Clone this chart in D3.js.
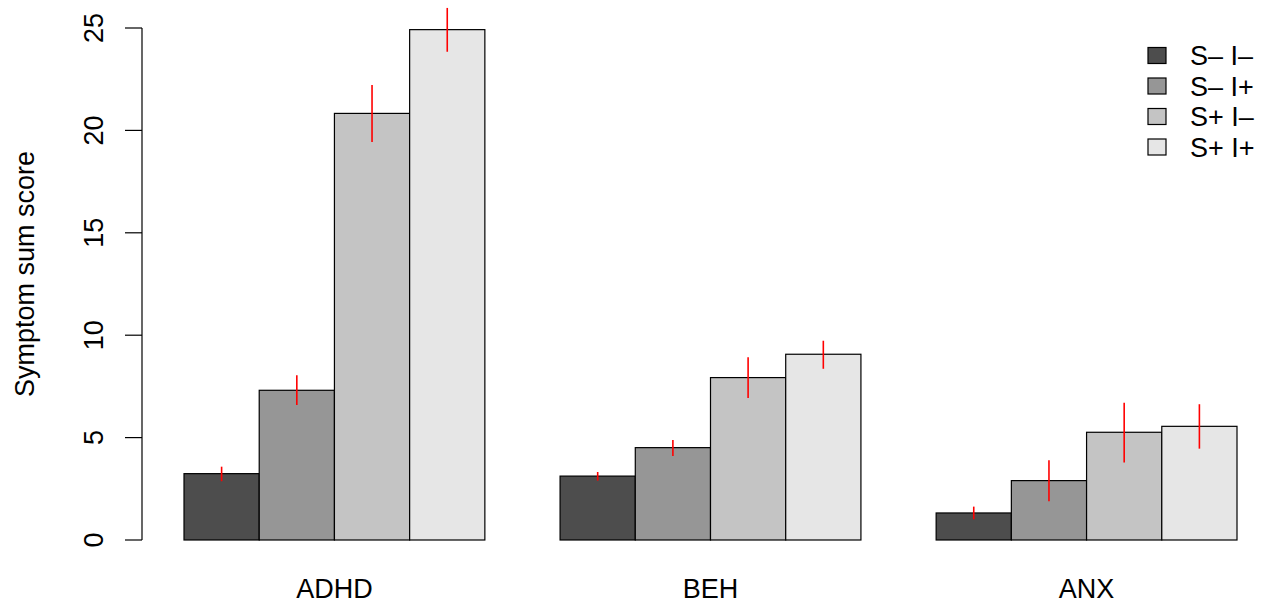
<!DOCTYPE html>
<html>
<head>
<meta charset="utf-8">
<script src="https://cdn.jsdelivr.net/npm/d3@7"></script>
<style>
  html, body { margin: 0; padding: 0; background: #fff; }
  svg text { font-family: "Liberation Sans", Arial, sans-serif; fill: #000; }
</style>
</head>
<body>
<svg id="chart" width="1262" height="604"></svg>
<script>
// ---- data ----
const categories = ["ADHD", "BEH", "ANX"];
const seriesNames = ["S\u2013 I\u2013", "S\u2013 I+", "S+ I\u2013", "S+ I+"];
const seriesColors = ["#4D4D4D", "#969696", "#C4C4C4", "#E6E6E6"];

const meanSmIm = [3.24, 3.12, 1.32];
const meanSmIp = [7.31, 4.51, 2.90];
const meanSpIm = [20.83, 7.93, 5.26];
const meanSpIp = [24.92, 9.07, 5.55];

const lowSmIm = [2.87, 2.90, 1.01];
const lowSmIp = [6.59, 4.10, 1.89];
const lowSpIm = [19.43, 6.93, 3.79];
const lowSpIp = [23.84, 8.36, 4.46];

const highSmIm = [3.58, 3.32, 1.63];
const highSmIp = [8.04, 4.88, 3.89];
const highSpIm = [22.22, 8.92, 6.70];
const highSpIp = [25.98, 9.73, 6.63];

const yTicks = [0, 5, 10, 15, 20, 25];
const yLabel = "Symptom sum score";

const means = [meanSmIm, meanSmIp, meanSpIm, meanSpIp];
const lows = [lowSmIm, lowSmIp, lowSpIm, lowSpIp];
const highs = [highSmIm, highSmIp, highSpIm, highSpIp];

// ---- layout ----
const svg = d3.select("#chart");
const fontSize = 27;

// barplot units: each bar 1 unit, 1 unit space before each group
const x = d3.scaleLinear().domain([1, 15]).range([184, 1237]);
const y = d3.scaleLinear().domain([0, 25]).range([540, 28]);

const bars = [];
categories.forEach((c, g) => {
  seriesNames.forEach((s, j) => {
    const left = g * 5 + 1 + j;
    bars.push({ g, j, left, value: means[j][g], lo: lows[j][g], hi: highs[j][g] });
  });
});

svg.append("g").selectAll("rect").data(bars).join("rect")
  .attr("x", d => x(d.left))
  .attr("width", d => x(d.left + 1) - x(d.left))
  .attr("y", d => y(d.value))
  .attr("height", d => y(0) - y(d.value))
  .attr("fill", d => seriesColors[d.j])
  .attr("stroke", "#000")
  .attr("stroke-width", 1.2);

// error bars
svg.append("g").selectAll("line").data(bars).join("line")
  .attr("x1", d => x(d.left + 0.5))
  .attr("x2", d => x(d.left + 0.5))
  .attr("y1", d => y(d.lo))
  .attr("y2", d => y(d.hi))
  .attr("stroke", "#FF0000")
  .attr("stroke-width", 1.6);

// y axis (R style)
const axisX = 142;
const yAxis = svg.append("g");
yAxis.append("line")
  .attr("x1", axisX).attr("x2", axisX)
  .attr("y1", y(0)).attr("y2", y(25))
  .attr("stroke", "#000").attr("stroke-width", 1.2);
yAxis.selectAll("line.tick").data(yTicks).join("line")
  .attr("class", "tick")
  .attr("x1", axisX - 17).attr("x2", axisX)
  .attr("y1", d => y(d)).attr("y2", d => y(d))
  .attr("stroke", "#000").attr("stroke-width", 1.2);
yAxis.selectAll("text").data(yTicks).join("text")
  .attr("transform", d => `translate(103,${y(d)}) rotate(-90)`)
  .attr("text-anchor", "middle")
  .style("font-size", fontSize + "px")
  .text(d => d);

// y label
svg.append("text")
  .attr("transform", `translate(34,${274}) rotate(-90)`)
  .attr("text-anchor", "middle")
  .style("font-size", fontSize + "px")
  .text(yLabel);

// x category labels
svg.append("g").selectAll("text").data(categories).join("text")
  .attr("x", (d, g) => x(g * 5 + 1 + 2))
  .attr("y", 598)
  .attr("text-anchor", "middle")
  .style("font-size", fontSize + "px")
  .text(d => d);

// legend
const legendY = [55.5, 86, 116.5, 147];
const lg = svg.append("g");
seriesNames.forEach((s, j) => {
  lg.append("rect")
    .attr("x", 1148).attr("y", legendY[j] - 8)
    .attr("width", 18).attr("height", 16)
    .attr("fill", seriesColors[j])
    .attr("stroke", "#000").attr("stroke-width", 1.2);
  lg.append("text")
    .attr("x", 1190).attr("y", legendY[j] + 9.5)
    .style("font-size", fontSize + "px")
    .text(s);
});
</script>
</body>
</html>
